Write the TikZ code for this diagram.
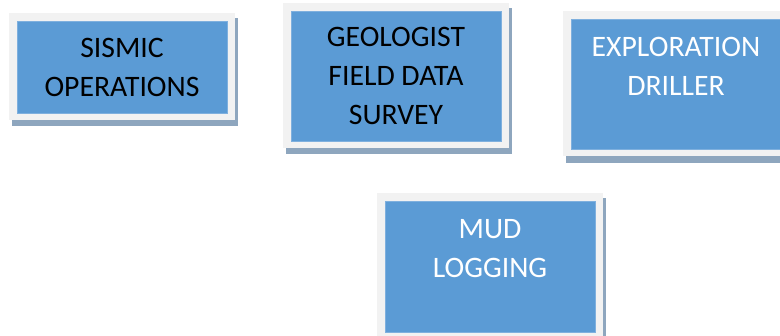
\documentclass[tikz,border=0pt]{standalone}
\usepackage{fontspec}
\setmainfont{Carlito}
\definecolor{boxblue}{HTML}{5B9BD5}
\definecolor{boxedge}{HTML}{7FB0DE}
\definecolor{framegray}{HTML}{F2F2F2}
\definecolor{shadowblue}{HTML}{8EA6BE}
\begin{document}
\begin{tikzpicture}[x=1pt,y=-1pt,
  shadowbox/.style={fill=shadowblue},
  framebox/.style={fill=framegray},
  bluebox/.style={fill=boxblue, draw=boxedge, line width=0.6pt},
  lbl/.style={font=\fontsize{29.7}{39}\selectfont, align=center, anchor=base, inner sep=0pt}]
\useasboundingbox (0,0) rectangle (780,336);
% Box 1
\fill[shadowbox] (12,18) rectangle (238,126);
\fill[framebox] (9,13) rectangle (235,120);
\draw[bluebox] (17,21) rectangle (227,113);
\node[lbl, text=black] (sismic) at (122,97) {SISMIC\\OPERATIONS};
% Box 2
\fill[shadowbox] (286,8) rectangle (512,154);
\fill[framebox] (283,3) rectangle (509,148);
\draw[bluebox] (291,11) rectangle (501,141);
\node[lbl, text=black] (geologist) at (396,125) {GEOLOGIST\\FIELD DATA\\SURVEY};
% Box 3
\fill[shadowbox] (566,16) rectangle (792,163);
\fill[framebox] (563,11) rectangle (789,156);
\draw[bluebox] (571,19) rectangle (781,149);
\node[lbl, text=white] (driller) at (676,96) {EXPLORATION\\DRILLER};
% Box 4
\fill[shadowbox] (380,198) rectangle (606,345);
\fill[framebox] (377,193) rectangle (603,340);
\draw[bluebox] (385,201) rectangle (595,332);
\node[lbl, text=white] (mud) at (490,278) {MUD\\LOGGING};
\end{tikzpicture}
\end{document}
